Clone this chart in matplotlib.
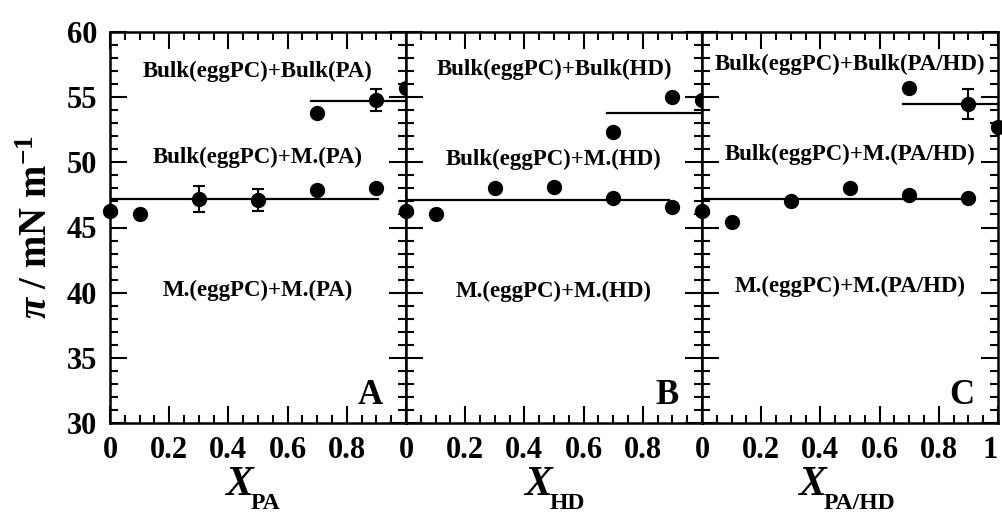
import matplotlib
matplotlib.use('Agg')
import matplotlib.pyplot as plt
from matplotlib.ticker import MultipleLocator

plt.rcParams['font.family'] = ['Liberation Serif', 'DejaVu Serif']
plt.rcParams['font.weight'] = 'bold'
plt.rcParams['mathtext.fontset'] = 'custom'
plt.rcParams['mathtext.rm'] = 'Liberation Serif:bold'
plt.rcParams['mathtext.bf'] = 'Liberation Serif:bold'
plt.rcParams['mathtext.it'] = 'Liberation Serif:italic:bold'

# panel A : eggPC / PA
xA_low = [0, 0.1, 0.3, 0.5, 0.7, 0.9]
yA_low = [46.3, 46.0, 47.2, 47.1, 47.9, 48.0]
eA_low = [0, 0, 1.0, 0.85, 0, 0]
xA_up = [0.7, 0.9, 1.0]
yA_up = [53.8, 54.8, 55.7]
eA_up = [0, 0.85, 0]
lineA_low = ([0, 0.905], 47.2)
lineA_up = ([0.68, 1.0], 54.7)

# panel B : eggPC / HD
xB_low = [0, 0.1, 0.3, 0.5, 0.7, 0.9]
yB_low = [46.3, 46.0, 48.0, 48.1, 47.3, 46.6]
eB_low = [0, 0, 0, 0, 0, 0]
xB_up = [0.7, 0.9, 1.0]
yB_up = [52.3, 55.0, 54.8]
eB_up = [0, 0, 0]
lineB_low = ([0, 0.89], 47.1)
lineB_up = ([0.68, 1.0], 53.8)

# panel C : eggPC / PA-HD
xC_low = [0, 0.1, 0.3, 0.5, 0.7, 0.9]
yC_low = [46.3, 45.4, 47.0, 48.0, 47.5, 47.3]
eC_low = [0, 0, 0, 0, 0, 0]
xC_up = [0.7, 0.9, 1.0]
yC_up = [55.7, 54.5, 52.7]
eC_up = [0, 1.15, 0]
lineC_low = ([0, 0.89], 47.2)
lineC_up = ([0.68, 1.0], 54.5)

comp = ['PA', 'HD', 'PA/HD']
letters = ['A', 'B', 'C']
# y of the three region labels in each panel
region_y = [(57.0, 50.4, 40.2), (57.1, 50.2, 40.1), (57.5, 50.6, 40.5)]
xlab_x = [0.435, 0.445, 0.37]

panels = [
    (xA_low, yA_low, eA_low, xA_up, yA_up, eA_up, lineA_low, lineA_up),
    (xB_low, yB_low, eB_low, xB_up, yB_up, eB_up, lineB_low, lineB_up),
    (xC_low, yC_low, eC_low, xC_up, yC_up, eC_up, lineC_low, lineC_up),
]

fig = plt.figure(figsize=(10.03, 5.15), dpi=100)
left, width = 110 / 1003, 296 / 1003
bottom, height = 1 - 423 / 515, (423 - 32) / 515

for i, (xl, yl, el, xu, yu, eu, ll, lu) in enumerate(panels):
    ax = fig.add_axes([left + i * width, bottom, width, height])
    ax.plot(ll[0], [ll[1], ll[1]], color='black', lw=1.6, zorder=2)
    ax.plot(lu[0], [lu[1], lu[1]], color='black', lw=1.6, zorder=2)
    for xs, ys, es in [(xl, yl, el), (xu, yu, eu)]:
        ax.errorbar(xs, ys, yerr=es, fmt='o', color='black', ms=10, capsize=4,
                    elinewidth=1.5, capthick=1.5, clip_on=False, zorder=3)

    ax.set_xlim(0, 1)
    ax.set_ylim(30, 60)
    ax.xaxis.set_major_locator(MultipleLocator(0.2))
    ax.xaxis.set_minor_locator(MultipleLocator(0.05))
    ax.yaxis.set_major_locator(MultipleLocator(5))
    ax.yaxis.set_minor_locator(MultipleLocator(1))
    ax.tick_params(which='both', direction='in', top=True, right=True, width=1.5)
    ax.tick_params(which='major', length=12, labelsize=22)
    ax.tick_params(axis='x', which='major', pad=9)
    ax.tick_params(axis='y', which='major', pad=9)
    ax.tick_params(which='minor', length=6)
    for s in ax.spines.values():
        s.set_linewidth(1.8)

    if i < 2:
        ax.set_xticks([0, 0.2, 0.4, 0.6, 0.8])
        ax.set_xticklabels(['0', '0.2', '0.4', '0.6', '0.8'])
    else:
        ax.set_xticks([0, 0.2, 0.4, 0.6, 0.8, 1.0])
        ax.set_xticklabels(['0', '0.2', '0.4', '0.6', '0.8', '1'])
        ax.get_xticklabels()[-1].set_horizontalalignment('right')
    if i > 0:
        ax.tick_params(axis='y', labelleft=False)
    else:
        ax.set_ylabel(r'$\mathit{\pi}$ / mN m$^{\mathbf{-1}}$', fontsize=28,
                      fontweight='bold', labelpad=8)

    # x label: big italic X with a small bold subscript
    xt = ax.text(xlab_x[i], -0.185, 'X', transform=ax.transAxes, ha='center',
                 va='baseline', fontsize=30, fontstyle='italic', fontweight='bold')
    ax.annotate(comp[i], xy=(0.92, 0), xycoords=xt, xytext=(0, -3),
                textcoords='offset points', ha='left', va='baseline',
                fontsize=17, fontweight='bold')

    ry = region_y[i]
    ax.text(0.5, ry[0], 'Bulk(eggPC)+Bulk(%s)' % comp[i], ha='center', va='center',
            fontsize=16.5, fontweight='bold')
    ax.text(0.5, ry[1], 'Bulk(eggPC)+M.(%s)' % comp[i], ha='center', va='center',
            fontsize=16.5, fontweight='bold')
    ax.text(0.5, ry[2], 'M.(eggPC)+M.(%s)' % comp[i], ha='center', va='center',
            fontsize=16.5, fontweight='bold')
    ax.text(0.92, 31.45, letters[i], ha='right', va='baseline', fontsize=25,
            fontweight='bold')

fig.savefig('out.png', dpi=100)
